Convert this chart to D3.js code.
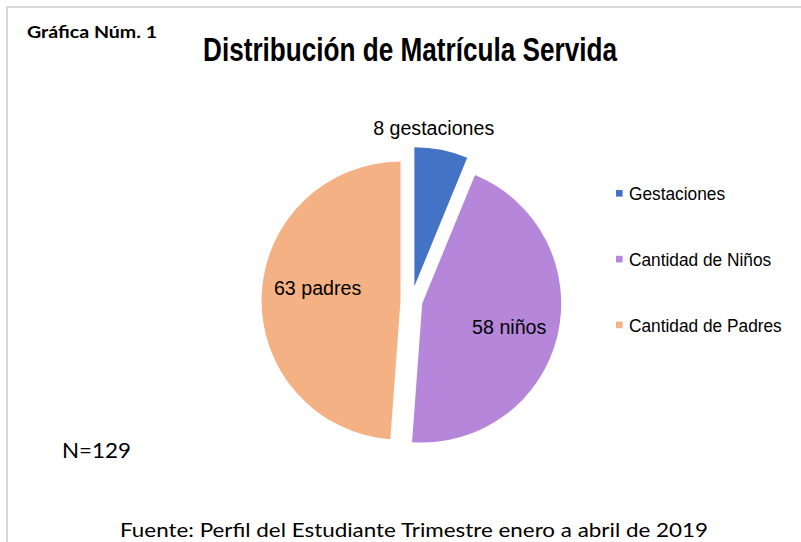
<!DOCTYPE html>
<html>
<head>
<meta charset="utf-8">
<script src="https://cdn.jsdelivr.net/npm/d3@7"></script>
<style>
  body { margin: 0; background: #fff; }
  svg { display: block; }
</style>
</head>
<body>
<svg id="chart" width="801" height="542"></svg>
<script>
// data
var categories = ["Gestaciones", "Cantidad de Niños", "Cantidad de Padres"]
var values = [8, 58, 63]
var sliceLabels = ["8 gestaciones", "58 niños", "63 padres"]
var colors = ["#4472c4", "#b586da", "#f4b183"]

var width = 801, height = 542
var narrow = 0.935 // the source text is a bit condensed
var svg = d3.select("#chart")

// outer frame (only top and left edges are visible in the reference)
svg.append("rect")
    .attr("x", 7).attr("y", 7)
    .attr("width", width + 10).attr("height", height + 10)
    .attr("fill", "#fff")
    .attr("stroke", "#d9d9d9")
    .attr("stroke-width", 2)

svg.append("text")
    .attr("x", 27).attr("y", 38)
    .attr("font-family", "Lato, 'Open Sans', sans-serif")
    .attr("font-weight", "bold")
    .attr("font-size", 17)
    .attr("textLength", 130).attr("lengthAdjust", "spacingAndGlyphs")
    .text("Gráfica Núm. 1")

svg.append("text")
    .attr("x", 203).attr("y", 61)
    .attr("font-family", "'Liberation Sans', Arial, sans-serif")
    .attr("font-weight", "bold")
    .attr("font-size", 34)
    .attr("textLength", 414).attr("lengthAdjust", "spacingAndGlyphs")
    .text("Distribución de Matrícula Servida")

// pie
var cx = 411.5, cy = 301, radius = 139
var explode = function(d) { return d.index == 0 ? 15 : 11 }

var pie = d3.pie().sort(null).value(function(d) { return d.value })
var arc = d3.arc().innerRadius(0).outerRadius(radius)

var pieData = pie(categories.map(function(name, i) {
  return {name: name, value: values[i], label: sliceLabels[i], color: colors[i]}
}))

var slices = svg.append("g")
    .attr("transform", "translate(" + cx + "," + cy + ")")
  .selectAll(".slice")
    .data(pieData)
  .enter().append("g")
    .attr("class", "slice")
    .attr("transform", function(d) {
      var mid = (d.startAngle + d.endAngle) / 2
      var e = explode(d)
      return "translate(" + (Math.sin(mid) * e) + "," + (-Math.cos(mid) * e) + ")"
    })

slices.append("path")
    .attr("d", arc)
    .attr("fill", function(d) { return d.data.color })

// where each label sits: fraction across the slice, distance from centre
var labelPos = [{t: 0.31, r: 160}, {t: 0.51, r: 90}, {t: 0.54, r: 84}]
slices.append("g")
    .attr("transform", function(d) {
      var p = labelPos[d.index]
      var a = d.startAngle + p.t * (d.endAngle - d.startAngle)
      return "translate(" + (Math.sin(a) * p.r) + "," + (-Math.cos(a) * p.r) + ") scale(" + narrow + ",1)"
    })
  .append("text")
    .attr("dy", "0.36em")
    .attr("text-anchor", "middle")
    .attr("font-family", "'Liberation Sans', Arial, sans-serif")
    .attr("font-size", 21)
    .attr("fill", "#000")
    .text(function(d) { return d.data.label })

// legend
var legend = svg.append("g")
  .selectAll(".legend-item")
    .data(categories)
  .enter().append("g")
    .attr("class", "legend-item")
    .attr("transform", function(d, i) { return "translate(616," + (193.3 + i * 65.8) + ")" })

legend.append("rect")
    .attr("x", 0).attr("y", -3.3)
    .attr("width", 6.6).attr("height", 6.6)
    .attr("fill", function(d, i) { return colors[i] })

legend.append("text")
    .attr("transform", "translate(13,0) scale(" + narrow + ",1)")
    .attr("dy", "0.36em")
    .attr("font-family", "'Liberation Sans', Arial, sans-serif")
    .attr("font-size", 18.5)
    .text(function(d) { return d })

svg.append("text")
    .attr("x", 62).attr("y", 458)
    .attr("font-family", "Lato, 'Open Sans', sans-serif")
    .attr("font-size", 22)
    .attr("textLength", 69).attr("lengthAdjust", "spacingAndGlyphs")
    .text("N=" + d3.sum(values))

svg.append("text")
    .attr("x", 120).attr("y", 537)
    .attr("font-family", "Lato, 'Open Sans', sans-serif")
    .attr("font-size", 20)
    .attr("textLength", 588).attr("lengthAdjust", "spacingAndGlyphs")
    .text("Fuente: Perfil del Estudiante Trimestre enero a abril de 2019")
</script>
</body>
</html>
